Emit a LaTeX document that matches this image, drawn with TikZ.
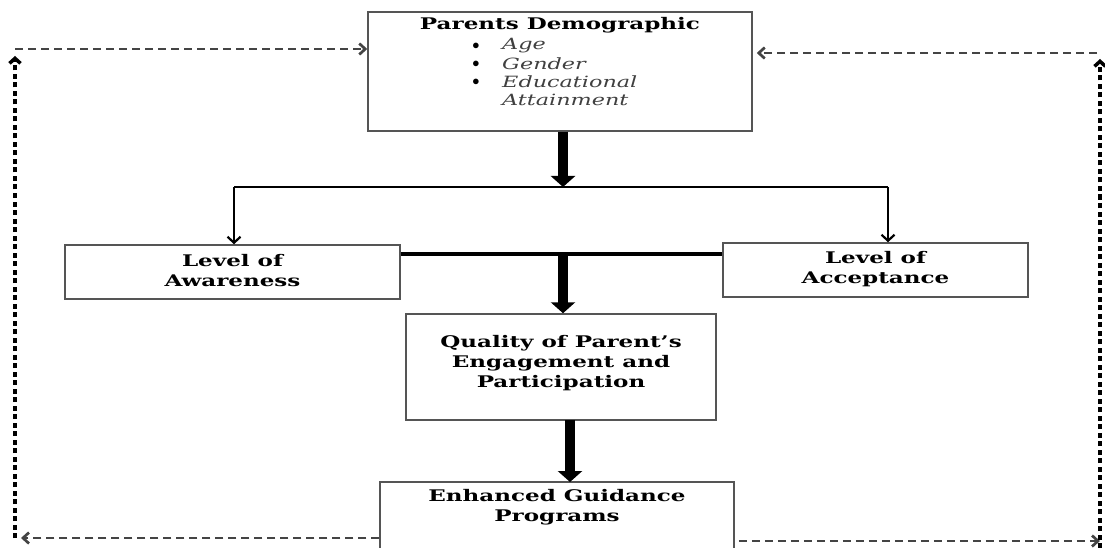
\documentclass[tikz,border=0pt]{standalone}
\usepackage{fontspec}
\setmainfont{DejaVu Serif}[FakeStretch=1.44]
\usetikzlibrary{arrows.meta,calc}
\definecolor{boxgray}{HTML}{555555}
\definecolor{dashgray}{HTML}{444444}
\tikzset{
  box/.style={draw=boxgray,line width=1.5pt,rectangle,inner sep=0pt},
  lbl/.style={font=\fontsize{16}{20}\selectfont\bfseries,align=center,inner sep=0pt},
  itm/.style={font=\fontsize{15.5}{18}\selectfont\itshape,anchor=west,inner sep=0pt,text=black!75},
  bul/.style={font=\fontsize{15}{15}\selectfont,inner sep=0pt},
  bigarrow/.style={line width=10pt,-{Triangle[width=24pt,length=11pt]}},
  thinarrow/.style={line width=2.2pt,-{Straight Barb[length=6pt,width=13pt]}},
  dashh/.style={draw=dashgray,line width=2.7pt,dash pattern=on 8pt off 5pt,-{Straight Barb[length=6pt,width=11pt]}},
  dashv/.style={draw=black,line width=3.5pt,dash pattern=on 5pt off 3.5pt,-{Straight Barb[length=5pt,width=11pt]}}
}
\begin{document}
\begin{tikzpicture}[x=1pt,y=-1pt]
\useasboundingbox (0,0) rectangle (1105,548);
% boxes
\node[box,minimum width=384pt,minimum height=119pt] (top) at (560,71.5) {};
\node[box,minimum width=335pt,minimum height=54pt] (aw) at (232.5,272) {};
\node[box,minimum width=305pt,minimum height=54pt] (ac) at (875.5,270) {};
\node[box,minimum width=310pt,minimum height=106pt] (qu) at (561,367) {};
\node[box,minimum width=354pt,minimum height=120pt] (en) at (557,542) {};
% texts
\node[lbl] (t0) at (560,25) {Parents Demographic};
\node[bul] (b1) at (476,46) {$\bullet$};
\node[bul] (b2) at (476,64) {$\bullet$};
\node[bul] (b3) at (476,82) {$\bullet$};
\node[itm] (i1) at (502,46) {Age};
\node[itm] (i2) at (502,64) {Gender};
\node[itm] (i3) at (502,82) {Educational};
\node[itm] (i4) at (502,100) {Attainment};
\node[lbl] (t1) at (232.5,271) {Level of\\Awareness};
\node[lbl] (t2) at (875.5,269) {Level of\\Acceptance};
\node[lbl] (t3) at (561,363) {Quality of Parent’s\\Engagement and\\Participation};
\node[lbl] (t4) at (557,507) {Enhanced Guidance\\Programs};
% junctions
\coordinate (j1) at (563,187);
\coordinate (jl) at (234,187);
\coordinate (jr) at (888,187);
\coordinate (j2) at (563,254);
\coordinate (j3) at (570,420);
\coordinate (j4) at (570,482);
% solid connectors
\draw[bigarrow] (top.south -| j1) -- (j1);
\draw[line width=2.2pt] (jl) -- (jr);
\draw[thinarrow] (jl) -- (jl |- aw.north);
\draw[thinarrow] (jr) -- (jr |- ac.north);
\draw[line width=4.5pt] (aw.east |- j2) -- (ac.west |- j2);
\draw[bigarrow] (j2) -- (j2 |- qu.north);
\draw[bigarrow] (j3) -- (j4);
% dashed feedback
\coordinate (lb) at (15,538);
\coordinate (lt) at (15,49);
\coordinate (rb) at (1100,541);
\coordinate (rt) at (1100,53);
\draw[dashh] (en.west |- lb) -- ($(lb)+(6,0)$);
\draw[dashv] (15,538) -- (15,56);
\draw[dashh] (lt) -- (top.west |- lt);
\draw[dashh] ($(en.east |- rb)+(4,0)$) -- (rb);
\draw[dashv] (1100,548) -- (1100,59);
\draw[dashh] ($(rt)+(-3,0)$) -- ($(top.east |- rt)+(4,0)$);
\end{tikzpicture}
\end{document}
